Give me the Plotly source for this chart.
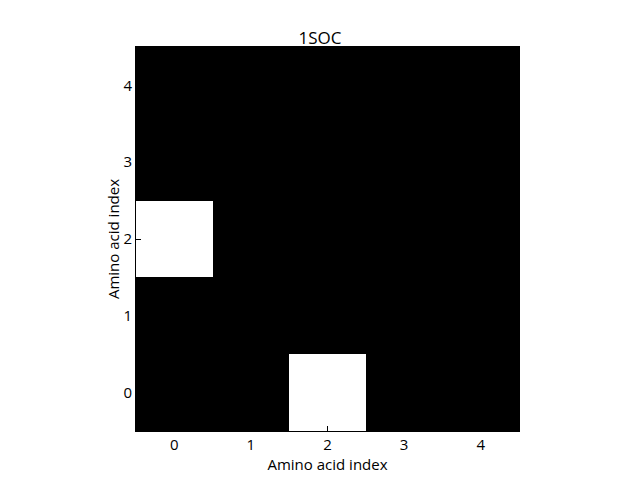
import plotly.graph_objects as go

x_labels = [0, 1, 2, 3, 4]
y_labels = [0, 1, 2, 3, 4]
# rows indexed by y (0..4), columns by x (0..4)
contact = [
    [0, 0, 1, 0, 0],
    [0, 0, 0, 0, 0],
    [1, 0, 0, 0, 0],
    [0, 0, 0, 0, 0],
    [0, 0, 0, 0, 0],
]

fig = go.Figure(go.Heatmap(
    x=x_labels, y=y_labels, z=contact,
    colorscale=[[0, "black"], [1, "white"]],
    zmin=0, zmax=1, showscale=False, xgap=0, ygap=0,
))

fig.update_layout(
    width=640, height=480,
    margin=dict(l=136, r=121, t=47, b=49, autoexpand=False),
    paper_bgcolor="white", plot_bgcolor="white",
    font=dict(family="Open Sans", size=15, color="black"),
    title=dict(text="1SOC", x=0.5, xanchor="center", y=1 - 38/480, yanchor="middle",
               font=dict(size=17)),
)
axis_common = dict(
    ticks="inside", ticklen=5, tickcolor="black", showgrid=False, zeroline=False,
    showline=True, linecolor="black", mirror=True, tickmode="array",
    tickvals=[0, 1, 2, 3, 4], range=[-0.5, 4.5], tickfont=dict(size=15),
)
fig.update_xaxes(title=dict(text="Amino acid index", standoff=0, font=dict(size=15)), **axis_common)
fig.update_yaxes(title=dict(text="Amino acid index", standoff=0, font=dict(size=15)), **axis_common)

fig.write_html("out.html", config={"displayModeBar": False})
with open("out.html") as f:
    html = f.read()
html = html.replace("<head>", "<head><style>body{margin:0}</style>", 1)
with open("out.html", "w") as f:
    f.write(html)
